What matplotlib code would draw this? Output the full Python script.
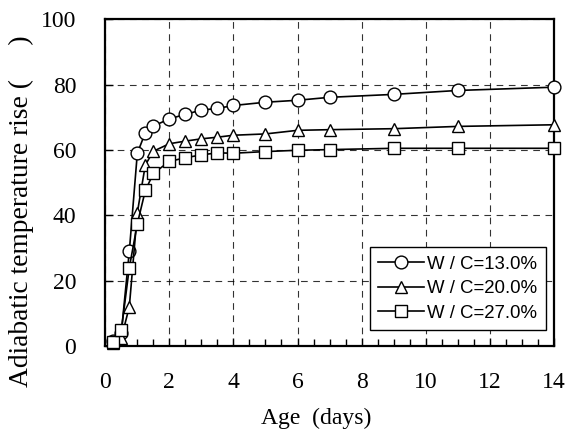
import numpy as np
import matplotlib.pyplot as plt
from matplotlib.ticker import MultipleLocator

# age (days) and adiabatic temperature rise
age_13 = [0.25, 0.5, 0.75, 1.0, 1.25, 1.5, 2, 2.5, 3, 3.5, 4, 5, 6, 7, 9, 11, 14]
rise_13 = [1.5, 4.0, 29.0, 59.0, 65.3, 67.3, 69.5, 70.9, 72.2, 72.7, 73.6, 74.6, 75.2, 76.1, 77.0, 78.2, 79.2]

age_20 = [0.25, 0.5, 0.75, 1.0, 1.25, 1.5, 2, 2.5, 3, 3.5, 4, 5, 6, 7, 9, 11, 14]
rise_20 = [1.0, 2.4, 12.0, 40.8, 55.4, 59.6, 61.9, 62.7, 63.4, 63.9, 64.5, 64.9, 66.0, 66.2, 66.5, 67.2, 67.7]

age_27 = [0.25, 0.5, 0.75, 1.0, 1.25, 1.5, 2, 2.5, 3, 3.5, 4, 5, 6, 7, 9, 11, 14]
rise_27 = [1.3, 4.8, 24.0, 37.4, 47.6, 52.8, 56.5, 57.6, 58.5, 59.1, 59.0, 59.5, 59.9, 60.1, 60.5, 60.5, 60.5]

labels = ['W / C=13.0%', 'W / C=20.0%', 'W / C=27.0%']
markers = ['o', '^', 's']

serif = ['Liberation Serif', 'DejaVu Serif']

fig = plt.figure(figsize=(5.67, 4.30), dpi=100)
ax = fig.add_axes([0.1857, 0.1953, 0.791, 0.760])

for x, y, m, lab in zip([age_13, age_20, age_27], [rise_13, rise_20, rise_27], markers, labels):
    ax.plot(x, y, color='black', linewidth=1.2, marker=m, markersize=9.2,
            markerfacecolor='white', markeredgecolor='black', markeredgewidth=1.0,
            label=lab, zorder=3, clip_on=False)

ax.set_xlim(0, 14)
ax.set_ylim(0, 100)
ax.xaxis.set_major_locator(MultipleLocator(2))
ax.xaxis.set_minor_locator(MultipleLocator(0.5))
ax.yaxis.set_major_locator(MultipleLocator(20))
ax.tick_params(which='both', direction='in', top=False, right=False)
ax.tick_params(axis='x', which='major', length=6, width=1, pad=19)
ax.tick_params(axis='y', which='major', length=6, width=1, pad=21)
ax.tick_params(which='minor', length=5, width=1)
for lab in ax.get_xticklabels() + ax.get_yticklabels():
    lab.set_fontfamily(serif)
    lab.set_fontsize(17)
for s in ax.spines.values():
    s.set_linewidth(1.6)

ax.grid(True, which='major', color='black', linestyle=(0, (6, 5)), linewidth=0.8, alpha=0.8)

ax.set_ylabel('Adiabatic temperature rise (     )', fontfamily=serif, fontsize=19.8)
ax.yaxis.set_label_coords(-0.158, 0.414)
ax.set_xlabel('Age  (days)', fontfamily=serif, fontsize=17)
ax.xaxis.set_label_coords(0.471, -0.19)

leg = ax.legend(loc='lower right', bbox_to_anchor=(0.982, 0.049), frameon=True, fancybox=False,
                edgecolor='black', framealpha=1, handlelength=2.5, handletextpad=0.15,
                borderpad=0.45, labelspacing=0.4, borderaxespad=0.0,
                prop={'family': ['Liberation Sans', 'DejaVu Sans'], 'size': 13.4})
leg.get_frame().set_linewidth(1.0)

fig.savefig('out.png', dpi=100)
